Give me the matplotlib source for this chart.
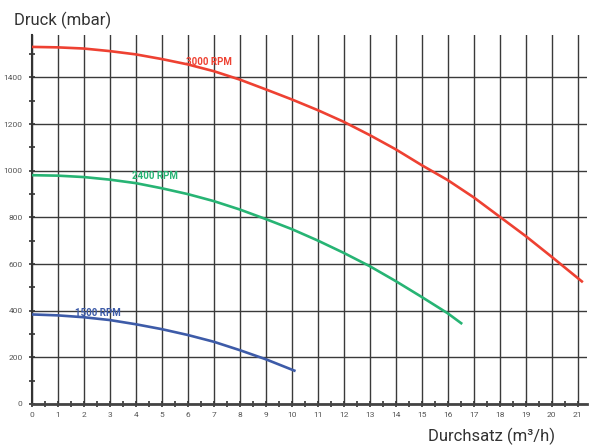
import matplotlib
matplotlib.use("Agg")
import matplotlib.pyplot as plt
from matplotlib.ticker import MultipleLocator

plt.rcParams['font.family'] = ['Roboto', 'DejaVu Sans']

# Data
flow_3000 = [0, 1, 2, 3, 4, 5, 6, 7, 8, 9, 10, 11, 12, 13, 14, 15, 16, 17, 18, 19, 20, 21.2]
press_3000 = [1531, 1529, 1524, 1513, 1499, 1479, 1456, 1427, 1391, 1349, 1306, 1260, 1210,
              1153, 1092, 1024, 960, 886, 803, 720, 631, 522]
flow_2400 = [0, 1, 2, 3, 4, 5, 6, 7, 8, 9, 10, 11, 12, 13, 14, 15, 16, 16.56]
press_2400 = [981, 979, 973, 962, 947, 925, 900, 870, 834, 793, 750, 701, 648, 591, 527, 459, 389, 343]
flow_1500 = [0, 1, 2, 3, 4, 5, 6, 7, 8, 9, 10.15]
press_1500 = [384, 380, 372, 360, 342, 321, 296, 267, 231, 192, 141]

series = [
    ("3000 RPM", flow_3000, press_3000, "#ee4132", (6.82, 1467)),
    ("2400 RPM", flow_2400, press_2400, "#27b474", (4.74, 978)),
    ("1500 RPM", flow_1500, press_1500, "#3d5ba8", (2.53, 389)),
]

x_ticks = list(range(0, 22))
y_ticks = list(range(0, 1401, 200))

fig = plt.figure(figsize=(5.92, 4.47), dpi=100)
ax = fig.add_axes([0.0535, 0.0962, 0.9381, 0.8255])
ax.set_xlim(0, 21.36)
ax.set_ylim(0, 1582)

grid_color = "#3a3a3a"
ax.set_xticks(x_ticks)
ax.set_yticks(y_ticks)
ax.xaxis.set_minor_locator(MultipleLocator(0.5))
ax.yaxis.set_minor_locator(MultipleLocator(100))
ax.grid(True, which="major", color=grid_color, linewidth=1.0)
ax.set_axisbelow(True)

for side in ("top", "right"):
    ax.spines[side].set_visible(False)
ax.spines["bottom"].set_color("#444444")
ax.spines["bottom"].set_linewidth(2.0)
ax.spines["left"].set_color("#333333")
ax.spines["left"].set_linewidth(1.5)

ax.tick_params(axis="both", which="major", direction="inout", length=5, width=1.2,
               color="#333333", labelsize=6, labelcolor="#555555")
ax.tick_params(axis="both", which="minor", direction="inout", length=4, width=1.2,
               color="#333333")
ax.tick_params(axis="x", which="major", pad=3)
ax.tick_params(axis="y", which="major", pad=4)

for label, xs, ys, color, (tx, ty) in series:
    ax.plot(xs, ys, color=color, linewidth=1.9, solid_capstyle="butt", zorder=3)
    ax.text(tx, ty, label, color=color, fontsize=7, fontweight="bold",
            ha="center", va="center", zorder=4)

fig.text(14 / 592, 1 - 20 / 447, "Druck (mbar)", fontsize=12, color="#333333",
         ha="left", va="center")
fig.text(555 / 592, 1 - 436 / 447, "Durchsatz (m\u00b3/h)", fontsize=12, color="#333333",
         ha="right", va="center")

fig.savefig("out.png", dpi=100)
